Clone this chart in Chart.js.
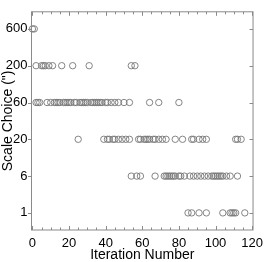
<!DOCTYPE html>
<html>
<head>
<meta charset="utf-8">
<script src="https://cdn.jsdelivr.net/npm/chart.js@4/dist/chart.umd.min.js"></script>
<style>
html,body{margin:0;padding:0;background:#fff;}
#wrap{width:269px;height:262px;position:relative;}
</style>
</head>
<body>
<div id="wrap"><canvas id="c"></canvas></div>
<script>
// Scale levels (categorical y axis, bottom to top)
const scaleLevels = ['1', '6', '20', '60', '200', '600'];
// Iterations at which each scale was chosen
const iter1   = [85, 87, 91, 95, 104, 108, 109, 110, 111, 116];
const iter6   = [54, 57, 59, 67, 72, 73, 74, 75, 76, 77, 78, 80, 81, 83, 86, 88, 90, 92, 94, 96, 98, 99, 100, 101, 102, 103, 104, 106, 108, 112];
const iter20  = [25, 39, 41, 42, 44, 45, 47, 49, 51, 53, 58, 59, 61, 62, 63, 64, 66, 67, 69, 71, 73, 78, 82, 87, 88, 91, 93, 95, 111, 112, 114];
const iter60  = [2, 3, 4, 8, 10, 12, 13, 14, 15, 17, 18, 19, 20, 21, 23, 24, 26, 27, 28, 29, 30, 32, 33, 34, 35, 36, 37, 38, 40, 41, 43, 45, 47, 50, 53, 64, 69, 80];
const iter200 = [2, 5, 6, 7, 9, 11, 16, 22, 31, 54, 56];
const iter600 = [0, 1];
const xTickLabels = [0, 20, 40, 60, 80, 100, 120];

const groups = [iter1, iter6, iter20, iter60, iter200, iter600];
const points = [];
groups.forEach((arr, lvl) => arr.forEach(it => points.push({x: it, y: lvl})));

const frameColor = '#8a8a8a';
const frameTicks = {
  id: 'frameTicks',
  afterDatasetsDraw(chart) {
    const {ctx, chartArea: a, scales: {x, y}} = chart;
    ctx.save();
    ctx.strokeStyle = frameColor;
    ctx.lineWidth = 1;
    ctx.strokeRect(a.left, a.top, a.right - a.left, a.bottom - a.top);
    ctx.beginPath();
    for (let v = 0; v <= 120; v += 5) {
      const px = Math.round(x.getPixelForValue(v)) + 0.5;
      const len = (v % 20 === 0) ? 4 : 2.5;
      ctx.moveTo(px, a.bottom); ctx.lineTo(px, a.bottom - len);
      ctx.moveTo(px, a.top); ctx.lineTo(px, a.top + len);
    }
    scaleLevels.forEach((_, i) => {
      const py = Math.round(y.getPixelForValue(i)) + 0.5;
      ctx.moveTo(a.left, py); ctx.lineTo(a.left - 3.5, py);
      ctx.moveTo(a.right, py); ctx.lineTo(a.right - 3.5, py);
    });
    ctx.stroke();
    ctx.restore();
  }
};

const font = {family: '"Liberation Sans", Arial, sans-serif', size: 13};
const titleFont = {family: '"Liberation Sans", Arial, sans-serif', size: 14, lineHeight: 1};

new Chart(document.getElementById('c'), {
  type: 'scatter',
  data: {
    datasets: [{
      data: points,
      pointStyle: 'circle',
      pointRadius: 3.2,
      pointHoverRadius: 3.2,
      borderColor: '#777777',
      backgroundColor: 'rgba(0,0,0,0)',
      borderWidth: 0.9,
      clip: false
    }]
  },
  options: {
    responsive: true,
    maintainAspectRatio: false,
    animation: false,
    events: [],
    layout: {padding: {top: 1, right: 9, left: 0, bottom: 0}},
    plugins: {legend: {display: false}, tooltip: {enabled: false}},
    scales: {
      x: {
        type: 'linear', min: -0.5, max: 120.5,
        afterBuildTicks(s) { s.ticks = xTickLabels.map(v => ({value: v})); },
        afterFit(s) { s.height = 32; },
        grid: {display: false, drawTicks: false},
        border: {display: false},
        ticks: {color: '#000', font, padding: 6, maxRotation: 0, autoSkip: false},
        title: {display: true, text: 'Iteration Number', color: '#000', font: titleFont, padding: 0}
      },
      y: {
        type: 'linear', min: -0.465, max: 5.465,
        afterBuildTicks(s) { s.ticks = scaleLevels.map((_, i) => ({value: i})); },
        afterFit(s) { s.width = 31.5; },
        grid: {display: false, drawTicks: false},
        border: {display: false},
        ticks: {color: '#000', font, padding: 4, autoSkip: false,
          callback: (v) => scaleLevels[v]},
        title: {display: true, text: 'Scale Choice (")', color: '#000', font: titleFont, padding: {top: 1, bottom: 0}}
      }
    }
  },
  plugins: [frameTicks]
});
</script>
</body>
</html>
